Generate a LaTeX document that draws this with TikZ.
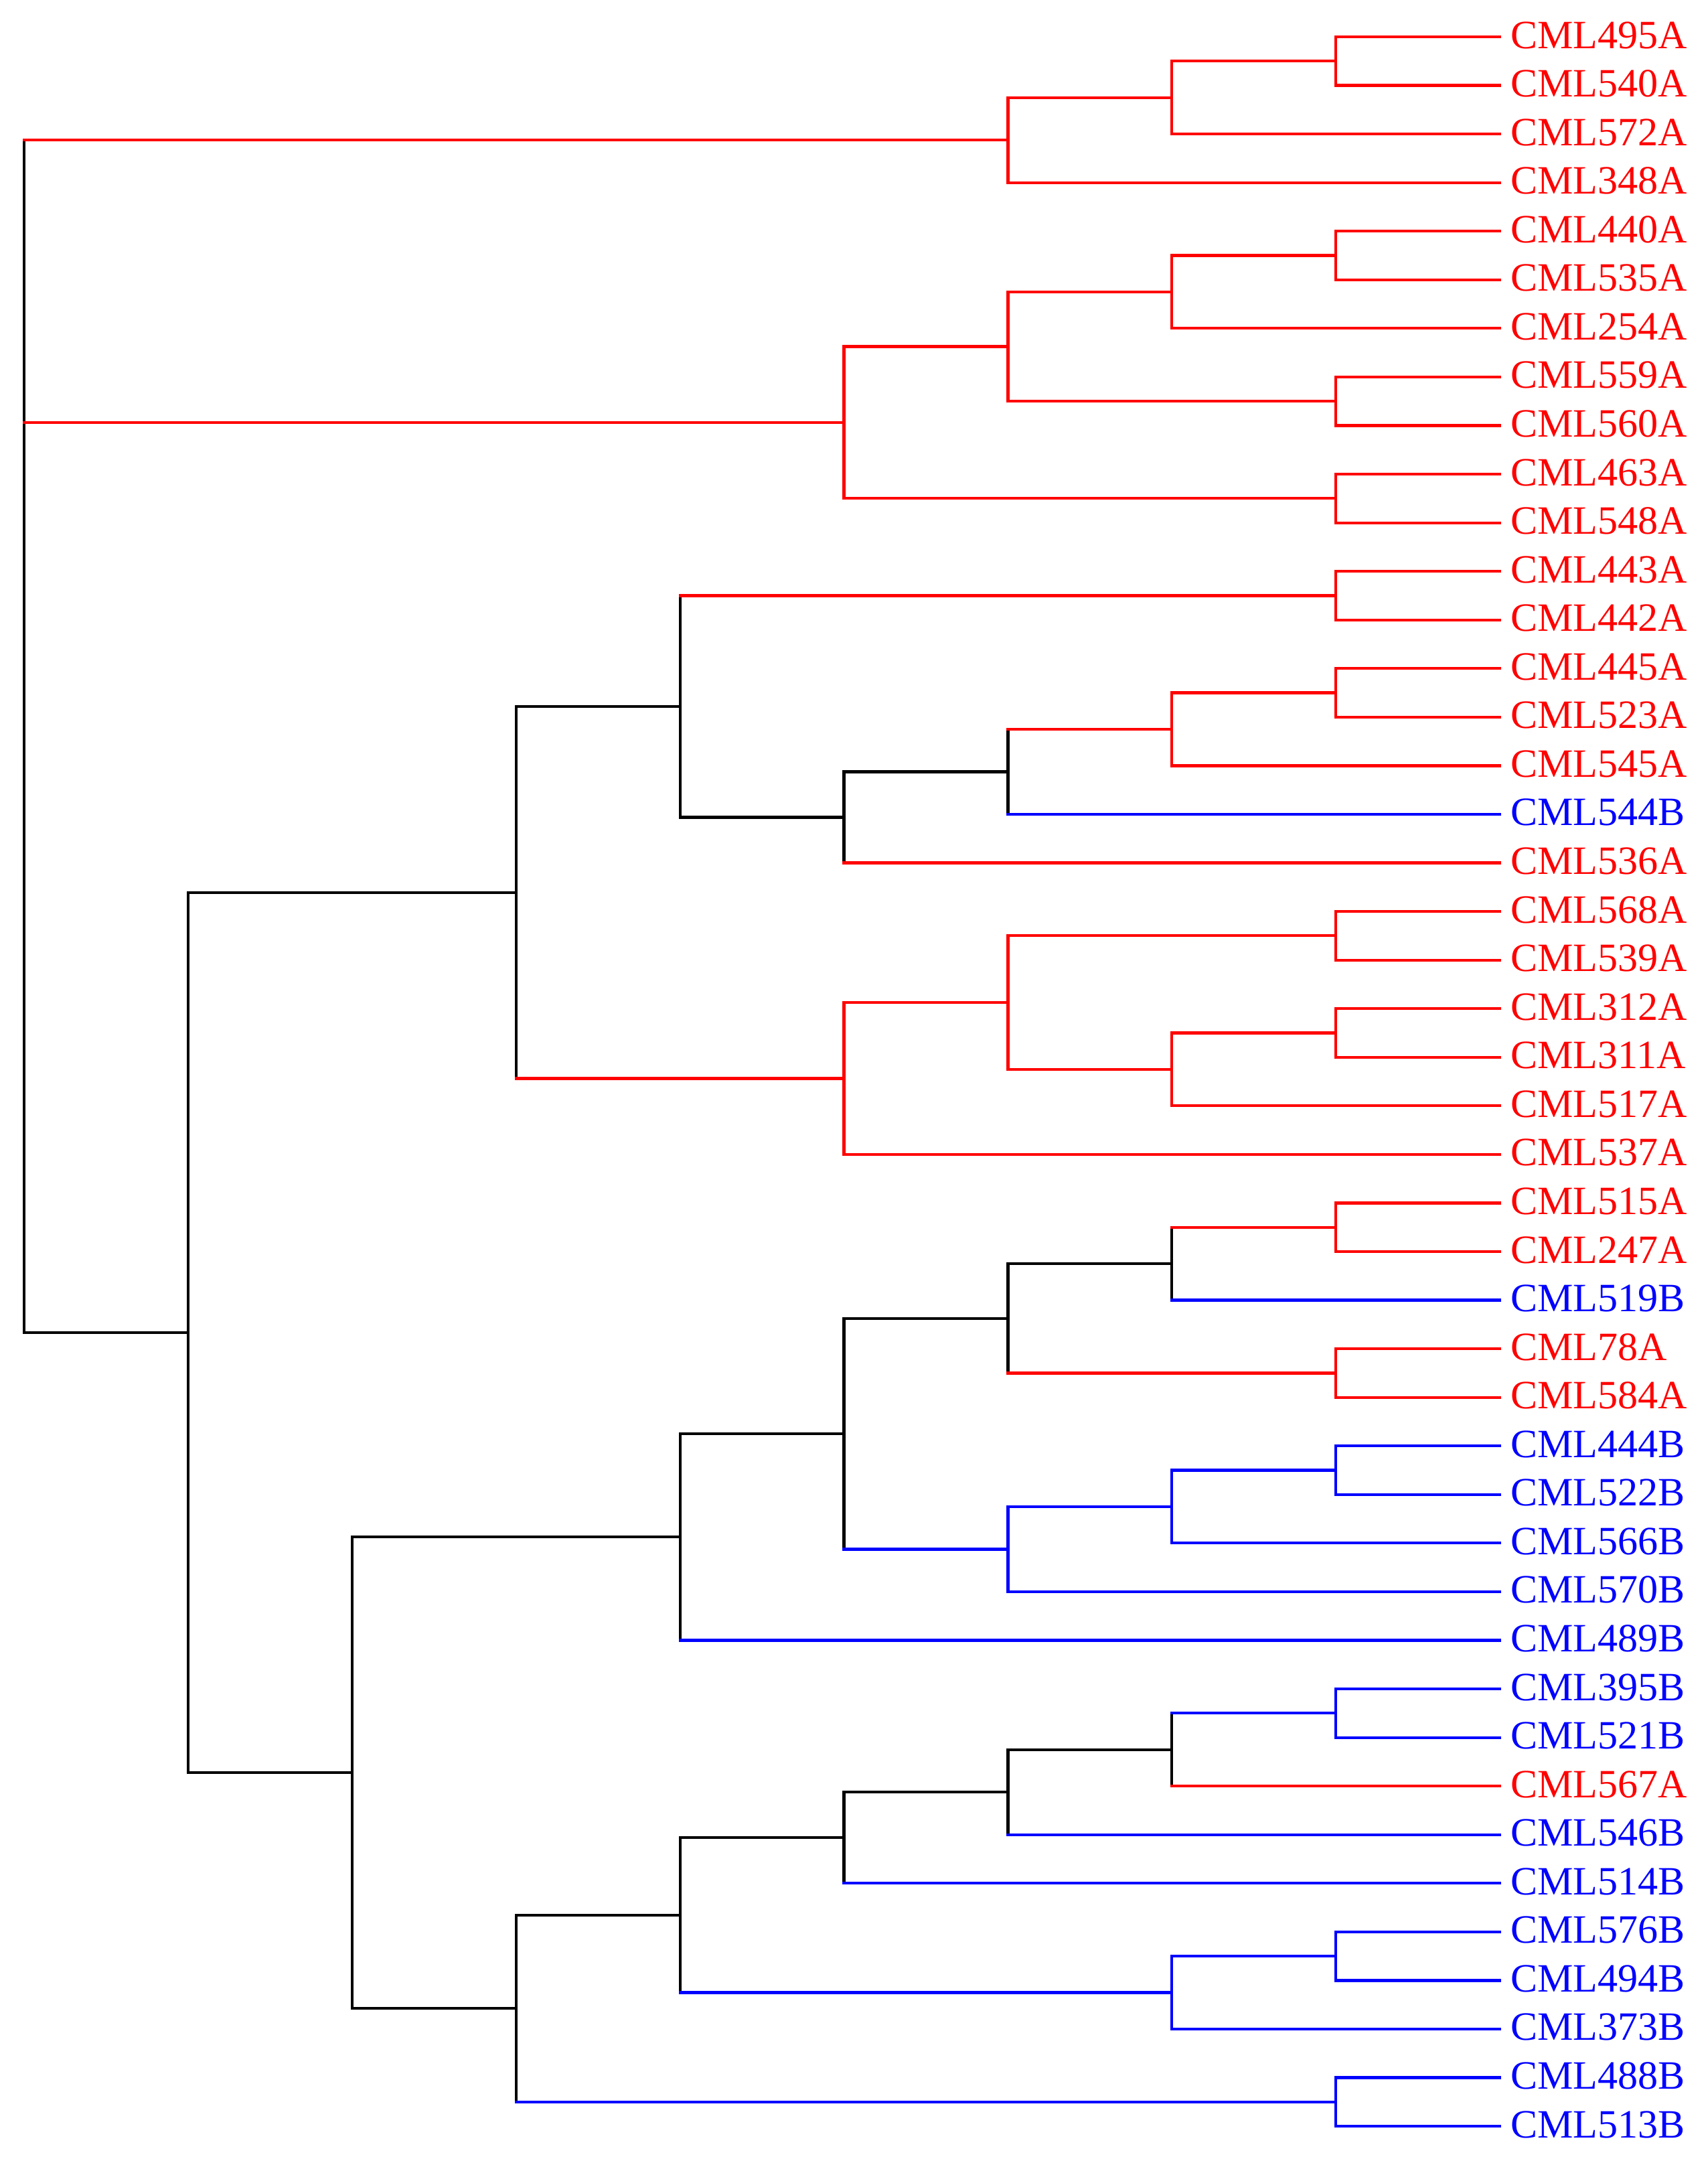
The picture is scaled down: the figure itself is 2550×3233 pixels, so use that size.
\documentclass[tikz,border=0pt]{standalone}
\usepackage{fontspec}
\setmainfont{Liberation Serif}
\usetikzlibrary{calc}
\definecolor{cred}{RGB}{255,0,0}
\definecolor{cblue}{RGB}{0,0,255}
\colorlet{cblk}{black}
\newcommand\LX[1]{36+244.9*#1}
\newcommand\LY[1]{55+72.56*(#1)}
% name, level, y-index, child1, colour1, child2, colour2, vertical colour
\newcommand\dnode[8]{%
  \coordinate (#1) at ({\LX{#2}},{\LY{#3}});
  \draw[#8] (#1 |- #4) -- (#1 |- #6);
  \draw[#5] (#1 |- #4) -- (#4);
  \draw[#7] (#1 |- #6) -- (#6);
}
\begin{document}
\begin{tikzpicture}[x=0.01cm,y=-0.01cm,line width=0.042cm,line cap=rect,
  lab/.style={inner sep=0pt,anchor=base west,font=\fontsize{17.07pt}{20pt}\selectfont}]
\useasboundingbox (0,0) rectangle (2550,3233);
\foreach \nm/\cl [count=\i from 0] in {CML495A/cred,CML540A/cred,CML572A/cred,CML348A/cred,
  CML440A/cred,CML535A/cred,CML254A/cred,CML559A/cred,CML560A/cred,CML463A/cred,CML548A/cred,
  CML443A/cred,CML442A/cred,CML445A/cred,CML523A/cred,CML545A/cred,CML544B/cblue,CML536A/cred,
  CML568A/cred,CML539A/cred,CML312A/cred,CML311A/cred,CML517A/cred,CML537A/cred,
  CML515A/cred,CML247A/cred,CML519B/cblue,CML78A/cred,CML584A/cred,
  CML444B/cblue,CML522B/cblue,CML566B/cblue,CML570B/cblue,CML489B/cblue,
  CML395B/cblue,CML521B/cblue,CML567A/cred,CML546B/cblue,CML514B/cblue,
  CML576B/cblue,CML494B/cblue,CML373B/cblue,CML488B/cblue,CML513B/cblue}{
  \coordinate (l\i) at (2240,{\LY{\i}});
  \node[lab,text=\cl] (t\i) at (2254,{\LY{\i}+17}) {\nm};
}
% top red clusters
\dnode{a1}{8}{0.5}{l0}{cred}{l1}{cred}{cred}
\dnode{a2}{7}{1.25}{a1}{cred}{l2}{cred}{cred}
\dnode{a3}{6}{2.125}{a2}{cred}{l3}{cred}{cred}
\dnode{b1}{8}{4.5}{l4}{cred}{l5}{cred}{cred}
\dnode{b2}{7}{5.25}{b1}{cred}{l6}{cred}{cred}
\dnode{b3}{8}{7.5}{l7}{cred}{l8}{cred}{cred}
\dnode{b4}{6}{6.375}{b2}{cred}{b3}{cred}{cred}
\dnode{b5}{8}{9.5}{l9}{cred}{l10}{cred}{cred}
\dnode{nB}{5}{7.9375}{b4}{cred}{b5}{cred}{cred}
% cluster C1
\dnode{c1}{8}{11.5}{l11}{cred}{l12}{cred}{cred}
\dnode{c2}{8}{13.5}{l13}{cred}{l14}{cred}{cred}
\dnode{c3}{7}{14.25}{c2}{cred}{l15}{cred}{cred}
\dnode{c4}{6}{15.125}{c3}{cred}{l16}{cblue}{cblk}
\dnode{c5}{5}{16.0625}{c4}{cblk}{l17}{cred}{cblk}
\dnode{c6}{4}{13.78125}{c1}{cred}{c5}{cblk}{cblk}
\dnode{c7}{8}{18.5}{l18}{cred}{l19}{cred}{cred}
\dnode{c8}{8}{20.5}{l20}{cred}{l21}{cred}{cred}
\dnode{c9}{7}{21.25}{c8}{cred}{l22}{cred}{cred}
\dnode{c10}{6}{19.875}{c7}{cred}{c9}{cred}{cred}
\dnode{c11}{5}{21.4375}{c10}{cred}{l23}{cred}{cred}
\dnode{nC1}{3}{17.609375}{c6}{cblk}{c11}{cred}{cblk}
% cluster C2
\dnode{d1}{8}{24.5}{l24}{cred}{l25}{cred}{cred}
\dnode{d2}{7}{25.25}{d1}{cred}{l26}{cblue}{cblk}
\dnode{d3}{8}{27.5}{l27}{cred}{l28}{cred}{cred}
\dnode{d4}{6}{26.375}{d2}{cblk}{d3}{cred}{cblk}
\dnode{d5}{8}{29.5}{l29}{cblue}{l30}{cblue}{cblue}
\dnode{d6}{7}{30.25}{d5}{cblue}{l31}{cblue}{cblue}
\dnode{d7}{6}{31.125}{d6}{cblue}{l32}{cblue}{cblue}
\dnode{d8}{5}{28.75}{d4}{cblk}{d7}{cblue}{cblk}
\dnode{d9}{4}{30.875}{d8}{cblk}{l33}{cblue}{cblk}
\dnode{e1}{8}{34.5}{l34}{cblue}{l35}{cblue}{cblue}
\dnode{e2}{7}{35.25}{e1}{cblue}{l36}{cred}{cblk}
\dnode{e3}{6}{36.125}{e2}{cblk}{l37}{cblue}{cblk}
\dnode{e4}{5}{37.0625}{e3}{cblk}{l38}{cblue}{cblk}
\dnode{e5}{8}{39.5}{l39}{cblue}{l40}{cblue}{cblue}
\dnode{e6}{7}{40.25}{e5}{cblue}{l41}{cblue}{cblue}
\dnode{e7}{4}{38.65625}{e4}{cblk}{e6}{cblue}{cblk}
\dnode{e8}{8}{42.5}{l42}{cblue}{l43}{cblue}{cblue}
\dnode{e9}{3}{40.578125}{e7}{cblk}{e8}{cblue}{cblk}
\dnode{nC2}{2}{35.7265625}{d9}{cblk}{e9}{cblk}{cblk}
\dnode{nC}{1}{26.66796875}{nC1}{cblk}{nC2}{cblk}{cblk}
% root
\coordinate (root) at ({\LX{0}},{\LY{14}});
\draw[cblk] (root |- a3) -- (root |- nC);
\draw[cred] (root |- a3) -- (a3);
\draw[cred] (root |- nB) -- (nB);
\draw[cblk] (root |- nC) -- (nC);
\end{tikzpicture}
\end{document}
